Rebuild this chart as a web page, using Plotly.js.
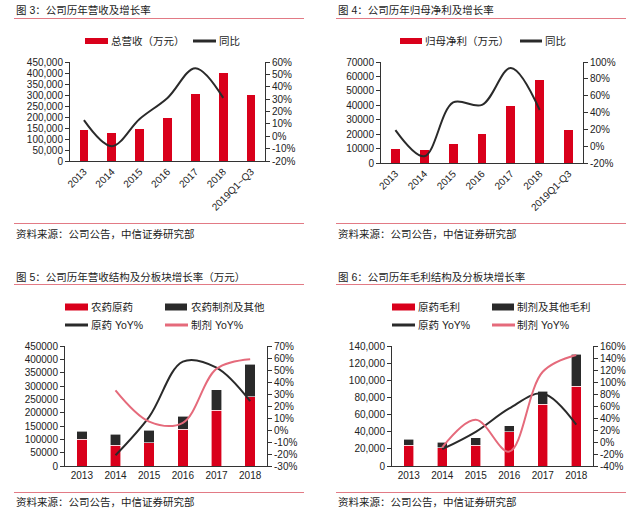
<!DOCTYPE html>
<html>
<head>
<meta charset="utf-8">
<script src="https://cdn.plot.ly/plotly-3.0.1.min.js"></script>
<style>html,body{margin:0;padding:0;background:#fff;}#chart{width:640px;height:521px;}</style>
</head>
<body>
<div id="chart"></div>
<script>
// ---- data ----
const catsRevenue = ['2013','2014','2015','2016','2017','2018','2019Q1~Q3'];
const revenue = [140000, 129000, 146000, 196000, 304000, 400000, 300000];
const revenueYoY = [13, -8, 14, 31, 55, 31];

const catsProfit = ['2013','2014','2015','2016','2017','2018','2019Q1-Q3'];
const netProfit = [10000, 8700, 13400, 20300, 39700, 57500, 22900];
const netProfitYoY = [19, -12, 52, 49, 93, 43];

const years = ['2013','2014','2015','2016','2017','2018'];
const techRevenue = [100000, 77500, 87500, 137500, 210000, 260000];
const formRevenue = [31000, 42500, 46000, 50000, 76000, 121000];
const techRevenueYoY = [null, -21, 11, 57, 52, 24];
const formRevenueYoY = [null, 33, 7, 6, 51, 59];

const techGross = [24500, 21400, 24500, 39700, 72000, 93300];
const formGross = [7000, 6200, 8500, 7000, 15100, 37000];
const techGrossYoY = [null, -12, 17, 56, 81, 29];
const formGrossYoY = [null, -9, 37, -16, 117, 145];

const pctTicks1 = [-20, -10, 0, 10, 20, 30, 40, 50, 60];
const pctTicks2 = [-20, 0, 20, 40, 60, 80, 100];
const pctTicks3 = [-30, -20, -10, 0, 10, 20, 30, 40, 50, 60, 70];
const pctTicks4 = [-40, -20, 0, 20, 40, 60, 80, 100, 120, 140, 160];

// ---- style ----
const W = 640, H = 521;
const RED = '#d9001b', DARK = '#2a2a2a', PINK = '#e56a7b', RULE = '#e27a85';
const FONT = 'Liberation Sans, Arial, Noto Sans CJK SC, sans-serif';
const TXT = '#222';
const px = x => x / W;
const py = y => 1 - y / H;
const pctText = a => a.map(v => v + '%');

const baseX = {
  type: 'category', showline: true, linecolor: '#333', linewidth: 1,
  ticks: '', showgrid: false, zeroline: false, fixedrange: true,
  tickfont: {family: FONT, size: 10, color: TXT}
};
const baseY = {
  showline: true, linecolor: '#333', linewidth: 1, ticks: 'outside', ticklen: 4,
  tickcolor: '#333', showgrid: false, zeroline: false, fixedrange: true,
  tickfont: {family: FONT, size: 10, color: TXT}
};

const traces = [
  // panel 1
  {type: 'bar', x: catsRevenue, y: revenue, xaxis: 'x', yaxis: 'y', marker: {color: RED}},
  {type: 'scatter', mode: 'lines', x: catsRevenue.slice(0, 6), y: revenueYoY, xaxis: 'x', yaxis: 'y2',
   line: {color: DARK, width: 2, shape: 'spline', smoothing: 1}},
  // panel 2
  {type: 'bar', x: catsProfit, y: netProfit, xaxis: 'x2', yaxis: 'y3', marker: {color: RED}},
  {type: 'scatter', mode: 'lines', x: catsProfit.slice(0, 6), y: netProfitYoY, xaxis: 'x2', yaxis: 'y4',
   line: {color: DARK, width: 2, shape: 'spline', smoothing: 1}},
  // panel 3
  {type: 'bar', x: years, y: techRevenue, xaxis: 'x3', yaxis: 'y5', marker: {color: RED, line: {color: '#fff', width: 0.6}}},
  {type: 'bar', x: years, y: formRevenue, xaxis: 'x3', yaxis: 'y5', marker: {color: DARK, line: {color: '#fff', width: 0.6}}},
  {type: 'scatter', mode: 'lines', x: years, y: techRevenueYoY, xaxis: 'x3', yaxis: 'y6',
   line: {color: DARK, width: 2, shape: 'spline', smoothing: 1}},
  {type: 'scatter', mode: 'lines', x: years, y: formRevenueYoY, xaxis: 'x3', yaxis: 'y6',
   line: {color: PINK, width: 2, shape: 'spline', smoothing: 1}},
  // panel 4
  {type: 'bar', x: years, y: techGross, xaxis: 'x4', yaxis: 'y7', marker: {color: RED, line: {color: '#fff', width: 0.6}}},
  {type: 'bar', x: years, y: formGross, xaxis: 'x4', yaxis: 'y7', marker: {color: DARK, line: {color: '#fff', width: 0.6}}},
  {type: 'scatter', mode: 'lines', x: years, y: techGrossYoY, xaxis: 'x4', yaxis: 'y8',
   line: {color: DARK, width: 2, shape: 'spline', smoothing: 1}},
  {type: 'scatter', mode: 'lines', x: years, y: formGrossYoY, xaxis: 'x4', yaxis: 'y8',
   line: {color: PINK, width: 2, shape: 'spline', smoothing: 1}}
];

const layout = {
  width: W, height: H, autosize: false,
  margin: {l: 0, r: 0, t: 0, b: 0, pad: 0},
  paper_bgcolor: '#fff', plot_bgcolor: 'rgba(0,0,0,0)',
  showlegend: false, barmode: 'stack', bargap: 0.69,
  font: {family: FONT, size: 10, color: TXT},

  xaxis: Object.assign({}, baseX, {domain: [px(70), px(265)], anchor: 'y', tickangle: -45}),
  yaxis: Object.assign({}, baseY, {domain: [py(161), py(62)], anchor: 'x', range: [0, 450000], dtick: 50000, tickformat: ','}),
  yaxis2: Object.assign({}, baseY, {overlaying: 'y', side: 'right', anchor: 'x', range: [-20, 60],
    tickvals: pctTicks1, ticktext: pctText(pctTicks1)}),

  xaxis2: Object.assign({}, baseX, {domain: [px(381), px(583)], anchor: 'y3', tickangle: -45}),
  yaxis3: Object.assign({}, baseY, {domain: [py(163), py(62)], anchor: 'x2', range: [0, 70000], dtick: 10000, tickformat: 'd'}),
  yaxis4: Object.assign({}, baseY, {overlaying: 'y3', side: 'right', anchor: 'x2', range: [-20, 100],
    tickvals: pctTicks2, ticktext: pctText(pctTicks2)}),

  xaxis3: Object.assign({}, baseX, {domain: [px(65), px(267)], anchor: 'y5', tickangle: 0}),
  yaxis5: Object.assign({}, baseY, {domain: [py(466), py(346)], anchor: 'x3', range: [0, 450000], dtick: 50000, tickformat: 'd'}),
  yaxis6: Object.assign({}, baseY, {overlaying: 'y5', side: 'right', anchor: 'x3', range: [-30, 70],
    tickvals: pctTicks3, ticktext: pctText(pctTicks3)}),

  xaxis4: Object.assign({}, baseX, {domain: [px(392), px(593)], anchor: 'y7', tickangle: 0}),
  yaxis7: Object.assign({}, baseY, {domain: [py(466), py(346)], anchor: 'x4', range: [0, 140000], dtick: 20000, tickformat: ','}),
  yaxis8: Object.assign({}, baseY, {overlaying: 'y7', side: 'right', anchor: 'x4', range: [-40, 160],
    tickvals: pctTicks4, ticktext: pctText(pctTicks4)}),

  shapes: [], annotations: []
};

function text(str, x, y, size) {
  layout.annotations.push({text: str, x: px(x), y: py(y), xref: 'paper', yref: 'paper',
    xanchor: 'left', yanchor: 'middle', showarrow: false, borderpad: 0,
    font: {family: FONT, size: size || 10, color: TXT}});
}
function hline(x0, x1, y, color, width) {
  layout.shapes.push({type: 'line', xref: 'paper', yref: 'paper', x0: px(x0), x1: px(x1), y0: py(y), y1: py(y),
    line: {color: color, width: width}});
}
function rect(x0, x1, yc, h, color) {
  layout.shapes.push({type: 'rect', xref: 'paper', yref: 'paper', x0: px(x0), x1: px(x1),
    y0: py(yc + h / 2), y1: py(yc - h / 2), line: {width: 0}, fillcolor: color});
}

// panel frames: titles, rules, sources
const panels = [
  {x: 15, title: '图 3：公司历年营收及增长率', ty: 10, r1: 18.5, r2: 223.5, sy: 234},
  {x: 337, title: '图 4：公司历年归母净利及增长率', ty: 10, r1: 18.5, r2: 223.5, sy: 234},
  {x: 15, title: '图 5：公司历年营收结构及分板块增长率（万元）', ty: 277, r1: 284.5, r2: 492.5, sy: 502},
  {x: 337, title: '图 6：公司历年毛利结构及分板块增长率', ty: 277, r1: 284.5, r2: 492.5, sy: 502}
];
panels.forEach(p => {
  text(p.title, p.x, p.ty, 10.5);
  hline(p.x - 1, p.x + 289, p.r1, RULE, 1.2);
  hline(p.x - 1, p.x + 289, p.r2, RULE, 1.2);
  text('资料来源：公司公告，中信证券研究部', p.x, p.sy, 10.5);
});

// legends
rect(85, 108, 41, 6, RED); text('总营收（万元）', 110, 41, 10.5);
hline(193, 216, 41, DARK, 3); text('同比', 218, 41, 10.5);

rect(400, 422, 41, 6, RED); text('归母净利（万元）', 424, 41, 10.5);
hline(520, 542, 41, DARK, 3); text('同比', 544, 41, 10.5);

rect(65, 88, 307, 7, RED); text('农药原药', 90, 307, 10.5);
rect(165, 187, 307, 7, DARK); text('农药制剂及其他', 190, 307, 10.5);
hline(65, 88, 325, DARK, 3); text('原药 YoY%', 90, 325, 10.5);
hline(165, 188, 325, PINK, 3); text('制剂 YoY%', 190, 325, 10.5);

rect(392, 415, 307, 7, RED); text('原药毛利', 417, 307, 10.5);
rect(492, 514, 307, 7, DARK); text('制剂及其他毛利', 516, 307, 10.5);
hline(392, 415, 325, DARK, 3); text('原药 YoY%', 417, 325, 10.5);
hline(492, 515, 325, PINK, 3); text('制剂 YoY%', 516, 325, 10.5);

Plotly.newPlot('chart', traces, layout, {displayModeBar: false, staticPlot: true});
</script>
</body>
</html>
